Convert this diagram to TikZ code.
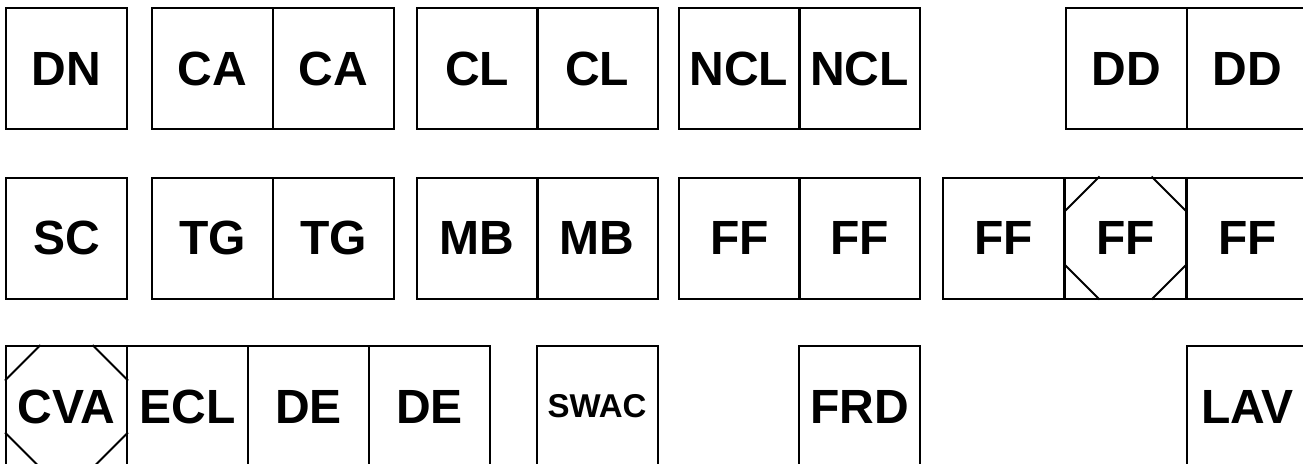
\documentclass[tikz,border=0pt]{standalone}
\usepackage{fontspec}
\setmainfont{Liberation Sans}
\usetikzlibrary{calc}
\tikzset{
  cell/.style={draw=black, line width=2pt, minimum width=121pt, minimum height=121pt,
    inner sep=0pt, font=\fontsize{48}{48}\selectfont\bfseries},
  smallcell/.style={cell, font=\fontsize{33}{33}\selectfont\bfseries},
  cut/.style={draw=black, line width=2pt}
}
\newcommand{\octcut}[1]{%
  \draw[cut] ($(#1.north west)+(35.5,0)$) -- ($(#1.north west)+(0,-35.5)$);
  \draw[cut] ($(#1.north east)+(-35.5,0)$) -- ($(#1.north east)+(0,-35.5)$);
  \draw[cut] ($(#1.south west)+(35.5,0)$) -- ($(#1.south west)+(0,35.5)$);
  \draw[cut] ($(#1.south east)+(-35.5,0)$) -- ($(#1.south east)+(0,35.5)$);
}
\begin{document}
\begin{tikzpicture}[x=1pt,y=1pt]
\useasboundingbox (0,0) rectangle (1303,-463);
\clip (0,0) rectangle (1303,-463);
% row 1
\node[cell] (dn)   at (66.5,-68.5) {DN};
\node[cell] (ca1)  at (212.5,-68.5) {CA};
\node[cell] (ca2)  at (333.5,-68.5) {CA};
\node[cell] (cl1)  at (477,-68.5) {CL};
\node[cell] (cl2)  at (597,-68.5) {CL};
\node[cell] (ncl1) at (739,-68.5) {NCL};
\node[cell] (ncl2) at (859.5,-68.5) {NCL};
\node[cell] (dd1)  at (1126,-68.5) {DD};
\node[cell] (dd2)  at (1247.5,-68.5) {DD};
% row 2
\node[cell] (sc)   at (66.5,-238) {SC};
\node[cell] (tg1)  at (212.5,-238) {TG};
\node[cell] (tg2)  at (333.5,-238) {TG};
\node[cell] (mb1)  at (477,-238) {MB};
\node[cell] (mb2)  at (597,-238) {MB};
\node[cell] (ff1)  at (739.5,-238) {FF};
\node[cell] (ff2)  at (859.5,-238) {FF};
\node[cell] (ff3)  at (1003.5,-238) {FF};
\node[cell] (ff4)  at (1125.5,-238) {FF};
\node[cell] (ff5)  at (1247.5,-238) {FF};
\octcut{ff4}
% row 3
\node[cell] (cva)  at (66.5,-406.5) {CVA};
\node[cell] (ecl)  at (187.5,-406.5) {ECL};
\node[cell] (de1)  at (308.5,-406.5) {DE};
\node[cell] (de2)  at (429.5,-406.5) {DE};
\node[smallcell] (swac) at (597,-406.5) {SWAC};
\node[cell] (frd)  at (859.5,-406.5) {FRD};
\node[cell] (lav)  at (1247.5,-406.5) {LAV};
\octcut{cva}
\end{tikzpicture}
\end{document}
